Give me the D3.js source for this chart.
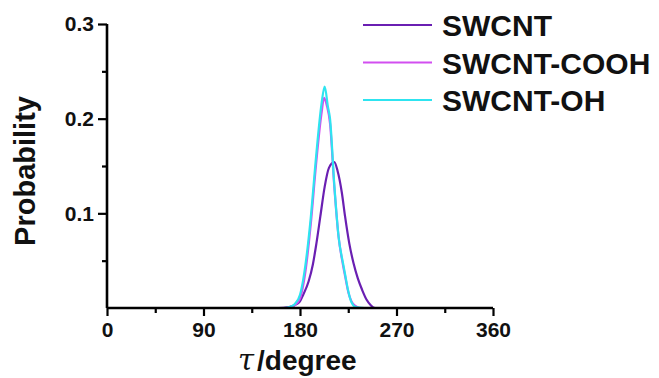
<!DOCTYPE html>
<html><head><meta charset="utf-8">
<script src="https://cdn.jsdelivr.net/npm/d3@7"></script>
<style>body{margin:0;background:#fff}svg{display:block}text{font-family:"Liberation Sans",Arial,sans-serif;font-weight:bold}</style>
</head><body><svg id="c" width="659" height="378"></svg>
<script>
const seriesNames = ["SWCNT", "SWCNT-COOH", "SWCNT-OH"];
const seriesColors = ["#6a1fb2", "#d24ef0", "#2ee4f0"];
const swcntAngle = [150,160,170,175,180,183,188,192,195,199,203,207,212,215,219,222,226,230,234,238,242,246,250,270];
const swcntProb  = [0,0,0.001,0.003,0.007,0.014,0.028,0.046,0.066,0.097,0.128,0.148,0.154,0.145,0.122,0.097,0.068,0.047,0.031,0.019,0.009,0.003,0,0];
const coohAngle = [150,165,170,175,180,183,185,190,195,200,202.5,205,208,212,216,220,222,225,228,232,236,250];
const coohProb  = [0,0,0.001,0.003,0.010,0.024,0.038,0.088,0.152,0.205,0.222,0.214,0.195,0.128,0.075,0.046,0.034,0.017,0.007,0.002,0,0];
const ohAngle = [150,165,170,175,180,183,185,190,195,200,203,206,208,212,216,220,222,225,228,232,240];
const ohProb  = [0,0,0.001,0.004,0.014,0.030,0.045,0.095,0.160,0.215,0.234,0.213,0.200,0.130,0.075,0.048,0.036,0.018,0.006,0.001,0];
const xTicks = [0, 90, 180, 270, 360];
const xMinor = [45, 135, 225, 315];
const yTicks = [0.1, 0.2, 0.3];
const yMinor = [0.05, 0.15, 0.25];

const svg = d3.select("#c");
const x = d3.scaleLinear().domain([0, 360]).range([107, 493]);
const y = d3.scaleLinear().domain([0, 0.3]).range([308, 24]);

const series = [
  {name: seriesNames[0], color: seriesColors[0], pts: swcntAngle.map((a,i)=>[a, swcntProb[i]])},
  {name: seriesNames[1], color: seriesColors[1], pts: coohAngle.map((a,i)=>[a, coohProb[i]])},
  {name: seriesNames[2], color: seriesColors[2], pts: ohAngle.map((a,i)=>[a, ohProb[i]])}
];
const line = d3.line().x(d=>x(d[0])).y(d=>y(d[1])).curve(d3.curveMonotoneX);
series.forEach(s => {
  svg.append("path").attr("d", line(s.pts)).attr("fill","none")
    .attr("stroke", s.color).attr("stroke-width", 2.2).attr("stroke-linejoin","round");
});

// axes
const xAxis = svg.append("g").attr("transform","translate(0,308)")
  .call(d3.axisBottom(x).tickValues(xTicks).tickSize(8).tickPadding(6));
const xAxisMinor = svg.append("g").attr("transform","translate(0,308)")
  .call(d3.axisBottom(x).tickValues(xMinor).tickSize(5).tickFormat(""));
const yAxis = svg.append("g").attr("transform","translate(107,0)")
  .call(d3.axisLeft(y).tickValues(yTicks).tickSize(9).tickPadding(4).tickFormat(d3.format(".1f")));
const yAxisMinor = svg.append("g").attr("transform","translate(107,0)")
  .call(d3.axisLeft(y).tickValues(yMinor).tickSize(5).tickFormat(""));
[xAxis, xAxisMinor, yAxis, yAxisMinor].forEach(g => {
  g.select(".domain").attr("stroke","#000").attr("stroke-width",2.6);
  g.selectAll(".tick line").attr("stroke","#000").attr("stroke-width",2.2);
  g.selectAll("text").attr("fill","#111").style("font-size","21px").style("font-family","'Liberation Sans',Arial,sans-serif").style("font-weight","bold");
});
xAxisMinor.select(".domain").remove();
yAxisMinor.select(".domain").remove();
yAxis.select(".domain").attr("d", `M0,${y(0)}V${y(0.3)}`);
xAxis.select(".domain").attr("d", `M${x(0)},0H${x(360)}`);

// axis titles
svg.append("text").attr("transform","translate(35,171) rotate(-90)")
  .attr("text-anchor","middle").style("font-size","29px").attr("fill","#111").text("Probability");
const xt = svg.append("text").attr("x", 238).attr("y", 370).attr("fill","#111");
xt.append("tspan").style("font-family","'DejaVu Serif','Liberation Serif',serif").style("font-style","italic").style("font-weight","normal").style("font-size","29px").text("τ");
xt.append("tspan").attr("dx", 3).style("font-size","28px").text("/degree");

// legend
const leg = svg.append("g");
series.forEach((s, i) => {
  const yy = 25 + i * 37.5;
  leg.append("line").attr("x1", 363).attr("x2", 432).attr("y1", yy).attr("y2", yy)
    .attr("stroke", s.color).attr("stroke-width", 2.2);
  leg.append("text").attr("x", 442).attr("y", yy + 11).style("font-size","30px").attr("fill","#111").text(s.name);
});
</script></body></html>
